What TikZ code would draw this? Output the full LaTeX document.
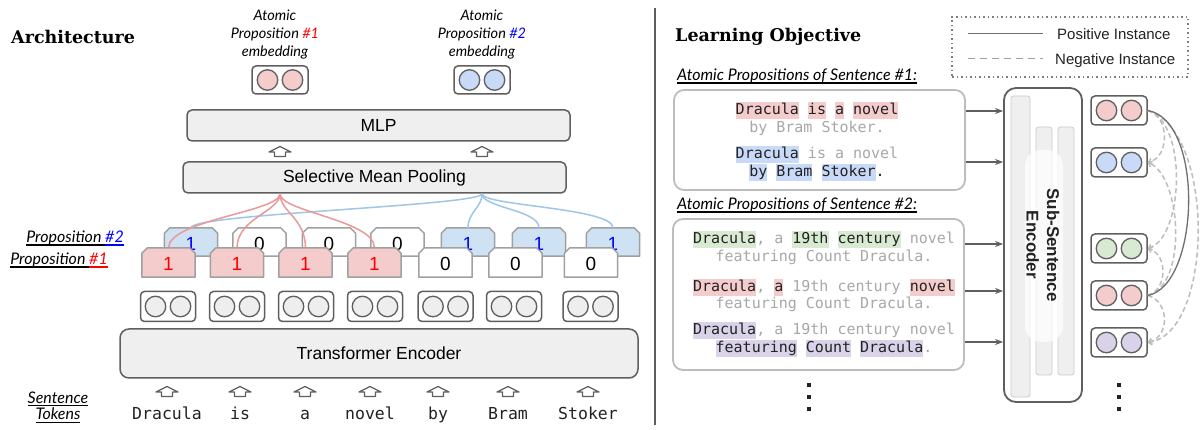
\documentclass[tikz,border=0pt]{standalone}
\usepackage{fontspec}
\setmainfont{Liberation Sans}
\newfontfamily\titlef{DejaVu Serif}
\newfontfamily\latof{Lato}
\newfontfamily\monof{DejaVu Sans Mono}
\usetikzlibrary{arrows.meta}
\definecolor{dgray}{HTML}{5F5F5F}
\definecolor{lgray}{HTML}{EFEFEF}
\definecolor{mgray}{HTML}{A0A0A0}
\definecolor{bgray}{HTML}{BDBDBD}
\definecolor{pinkc}{HTML}{F4CCCC}
\definecolor{bluec}{HTML}{C9DAF8}
\definecolor{blueb}{HTML}{CFE2F3}
\definecolor{greenc}{HTML}{D9EAD3}
\definecolor{purpc}{HTML}{D9D2E9}
\definecolor{tokc}{HTML}{EEEEEE}
\definecolor{redl}{HTML}{EA9999}
\definecolor{bluel}{HTML}{9FC5E8}
\definecolor{txtgray}{HTML}{A8A8A8}
\definecolor{hred}{HTML}{FF0000}
\definecolor{hblue}{HTML}{0000FF}
\definecolor{ink}{HTML}{222222}
\newcommand{\myul}[1]{\setbox0\hbox{#1}\rlap{\rule[-2.8pt]{\wd0}{1.3pt}}\box0\relax}
\newcommand{\hlw}[2]{\setbox0\hbox{#2}\rlap{\textcolor{#1}{\rule[-4pt]{\wd0}{17pt}}}\box0\relax}
\newcommand{\gr}[1]{\textcolor{txtgray}{#1}}
\newcommand{\emb}[5]{%
  \node[#5] (#1) at (#2,#3) {};
  \node[embcirc,fill=#4] (#1a) at ([xshift=-12.5pt]#1.center) {};
  \node[embcirc,fill=#4] (#1b) at ([xshift=12.5pt]#1.center) {};}
% chamfered proposition box: name, x, y, height, fill, text colour, digit
\newcommand{\chbox}[7]{%
  \node[inner sep=0,minimum width=53pt,minimum height=#4pt] (#1) at (#2,#3) {};
  \filldraw[fill=#5,draw=mgray,line width=1.5pt,line join=round]
    (#1.south west) -- ([yshift=-5.5pt]#1.north west) -- ([xshift=5.5pt]#1.north west)
    -- ([xshift=-5.5pt]#1.north east) -- ([yshift=-5.5pt]#1.north east) -- (#1.south east) -- cycle;
  \node[digit,text=#6] (#1t) at ([yshift=-1.5pt]#1.center) {#7};}
\begin{document}
\begin{tikzpicture}[x=1pt,y=-1pt,
  bigbox/.style={draw=dgray,fill=lgray,line width=1.5pt,rounded corners=5pt,inner sep=0,
     font=\fontsize{17.5}{20}\selectfont},
  embbase/.style={draw=dgray,line width=1.5pt,rounded corners=4pt,fill=white,inner sep=0},
  topemb/.style={embbase,minimum width=56pt,minimum height=28pt},
  tokemb/.style={embbase,minimum width=55pt,minimum height=30pt},
  rightemb/.style={embbase,minimum width=56pt,minimum height=29pt},
  embcirc/.style={circle,draw=dgray,line width=1.3pt,minimum size=20.5pt,inner sep=0},
  digit/.style={inner sep=0,font=\fontsize{19}{20}\selectfont},
  itl/.style={inner sep=0,font=\latof\itshape\fontsize{14.5}{18}\selectfont},
  itlb/.style={inner sep=0,font=\latof\itshape\fontsize{16}{18}\selectfont},
  tok/.style={inner sep=0,anchor=base,text=ink,font=\monof\fontsize{16.5}{18}\selectfont},
  mono/.style={inner sep=0,anchor=base,text=ink,font=\monof\fontsize{15}{18}\selectfont},
  title/.style={inner sep=0,anchor=base west,font=\titlef\bfseries\fontsize{17.5}{20}\selectfont},
  redcurve/.style={draw=redl,line width=1.5pt},
  bluecurve/.style={draw=bluel,line width=1.5pt},
  arr/.style={draw=dgray,line width=1.5pt,-{Stealth[length=8pt,width=6pt,inset=2.5pt]}},
  negc/.style={draw=bgray,line width=1.5pt,dash pattern=on 5pt off 3pt,
     -{Straight Barb[length=3pt,width=6pt]}},
  posc/.style={draw=dgray!90,line width=1.3pt},
  uparr/.pic={\draw[dgray,line width=1.3pt,fill=white,line join=round]
     (-11,0) -- (0,-5.5) -- (11,0) -- (5.5,0) -- (5.5,4.5) -- (-5.5,4.5) -- (-5.5,0) -- cycle;}
]
\fill[white] (0,0) rectangle (1200,430);
\useasboundingbox (0,0) rectangle (1200,430);

% ---------------- left: architecture ----------------
\node[title] (tA) at (11,44) {Architecture};

\node[itl,anchor=base] (lab1a) at (275,21) {Atomic};
\node[itl,anchor=base] (lab1b) at (275,39) {Proposition \textcolor{hred}{\#1}};
\node[itl,anchor=base] (lab1c) at (275,57) {embedding};
\node[itl,anchor=base] (lab2a) at (482,21) {Atomic};
\node[itl,anchor=base] (lab2b) at (482,39) {Proposition \textcolor{hblue}{\#2}};
\node[itl,anchor=base] (lab2c) at (482,57) {embedding};

\emb{tp1}{280}{80}{pinkc}{topemb}
\emb{tp2}{482}{80}{bluec}{topemb}

\node[bigbox,minimum width=383pt,minimum height=31pt] (mlp) at (378.5,125.5) {MLP};
\node[bigbox,minimum width=383pt,minimum height=31pt] (pool) at (374.5,177.5) {Selective Mean Pooling};
\pic (ua1) at (280,152) {uparr};
\pic (ua2) at (482,152) {uparr};

% back row (proposition #2)
\chbox{b1}{191}{242}{28}{blueb}{hblue}{1}
\chbox{b2}{259.5}{242}{28}{white}{black}{0}
\chbox{b3}{329}{242}{28}{white}{black}{0}
\chbox{b4}{397.5}{242}{28}{white}{black}{0}
\chbox{b5}{468}{242}{28}{blueb}{hblue}{1}
\chbox{b6}{539}{242}{28}{blueb}{hblue}{1}
\chbox{b7}{613}{242}{28}{blueb}{hblue}{1}

\coordinate (pr) at (pool.south -| 280,0);
\coordinate (pb) at (pool.south -| 482,0);
\draw[bluecurve] (pb) .. controls +(0,12) and +(0,-14) .. (b1.north);
\draw[bluecurve] (pb) .. controls +(0,14) and +(0,-16) .. (b5.north);
\draw[bluecurve] (pb) .. controls +(0,14) and +(0,-18) .. (b6.north);
\draw[bluecurve] (pb) .. controls +(0,12) and +(0,-20) .. (b7.north);

\draw[redcurve] (pr) .. controls +(0,18) and +(0,-28) .. (168.5,248);
\draw[redcurve] (pr) .. controls +(0,18) and +(0,-30) .. (237,248);
\draw[redcurve] (pr) .. controls +(0,18) and +(0,-30) .. (305.5,248);
\draw[redcurve] (pr) .. controls +(0,18) and +(0,-28) .. (374.5,248);

% front row (proposition #1)
\chbox{f1}{168.5}{262.5}{29}{pinkc}{hred}{1}
\chbox{f2}{237}{262.5}{29}{pinkc}{hred}{1}
\chbox{f3}{305.5}{262.5}{29}{pinkc}{hred}{1}
\chbox{f4}{374.5}{262.5}{29}{pinkc}{hred}{1}
\chbox{f5}{445.5}{262.5}{29}{white}{black}{0}
\chbox{f6}{515.5}{262.5}{29}{white}{black}{0}
\chbox{f7}{591}{262.5}{29}{white}{black}{0}

\node[itlb,anchor=base east] (lp2) at (124,243) {\myul{Proposition\ }\textcolor{hblue}{\myul{\#2}}};
\node[itlb,anchor=base east] (lp1) at (108,265) {\myul{Proposition\ }\textcolor{hred}{\myul{\#1}}};

\foreach \n/\x in {1/168,2/237,3/306,4/375,5/445.5,6/514,7/590.5}
  {\emb{te\n}{\x}{306.5}{tokc}{tokemb}}

\node[bigbox,minimum width=518pt,minimum height=49pt,rounded corners=9pt] (tenc) at (379,353.5) {Transformer Encoder};

\foreach \n/\x/\w in {1/167/Dracula,2/240/is,3/305/a,4/370/novel,5/438/by,6/508/Bram,7/588/Stoker}
  {\pic (tu\n) at (\x,392) {uparr};
   \node[tok] (tk\n) at (\x,420) {\w};}

\node[itlb,anchor=base] (st1) at (58,403) {\myul{Sentence}};
\node[itlb,anchor=base] (st2) at (58,420) {\myul{Tokens}};

% separator
\draw[dgray,line width=1.8pt] (655,8) -- (655,425);

% ---------------- right: learning objective ----------------
\node[title] (tL) at (675,42) {Learning Objective};

\node[draw=dgray!80,line width=1.5pt,dash pattern=on 1.5pt off 3pt,minimum width=236pt,minimum height=60pt,inner sep=0] (leg) at (1070,47) {};
\coordinate (lg1a) at (968,33.5);
\coordinate (lg1b) at (1043,33.5);
\coordinate (lg2a) at (968,58.5);
\coordinate (lg2b) at (1043,58.5);
\draw[posc] (lg1a) -- (lg1b);
\draw[draw=mgray,line width=1.3pt,dash pattern=on 7pt off 5pt] (lg2a) -- (lg2b);
\node[inner sep=0,anchor=base west,font=\fontsize{15}{18}\selectfont,text=ink] (legp) at (1057,39.5) {Positive Instance};
\node[inner sep=0,anchor=base west,font=\fontsize{15}{18}\selectfont,text=ink] (legn) at (1055,64.5) {Negative Instance};

\node[itlb,anchor=base west] (s1l) at (677,81) {\myul{Atomic Propositions of Sentence \#1:}};
\node[itlb,anchor=base west] (s2l) at (677,210) {\myul{Atomic Propositions of Sentence \#2:}};

\node[draw=bgray,line width=1.8pt,rounded corners=10pt,minimum width=291pt,minimum height=100pt,inner sep=0] (sb1) at (819.5,140) {};
\node[draw=bgray,line width=1.8pt,rounded corners=10pt,minimum width=291pt,minimum height=151pt,inner sep=0] (sb2) at (818.5,294.5) {};

\node[mono] (a1) at (817,115) {\hlw{pinkc}{Dracula} \hlw{pinkc}{is} \hlw{pinkc}{a} \hlw{pinkc}{novel}};
\node[mono] (a2) at (817,133) {\gr{by Bram Stoker.}};
\node[mono] (a3) at (817,159) {\hlw{bluec}{Dracula} \gr{is a novel}};
\node[mono] (a4) at (817,177) {\hlw{bluec}{by} \hlw{bluec}{Bram} \hlw{bluec}{Stoker}.};

\node[mono] (c1) at (824,244) {\hlw{greenc}{Dracula}\gr{, a} \hlw{greenc}{19th} \hlw{greenc}{century} \gr{novel}};
\node[mono] (c2) at (824,262) {\gr{featuring Count Dracula.}};
\node[mono] (c3) at (824,292) {\hlw{pinkc}{Dracula}\gr{,} \hlw{pinkc}{a} \gr{19th century} \hlw{pinkc}{novel}};
\node[mono] (c4) at (824,309) {\gr{featuring Count Dracula.}};
\node[mono] (c5) at (824,335) {\hlw{purpc}{Dracula}\gr{, a 19th century novel}};
\node[mono] (c6) at (824,353) {\hlw{purpc}{featuring} \hlw{purpc}{Count} \hlw{purpc}{Dracula}\gr{.}};

% sub-sentence encoder
\node[draw=dgray,line width=1.8pt,rounded corners=12pt,fill=white,minimum width=78pt,minimum height=314pt,inner sep=0] (enc) at (1043,245) {};
\node[fill=lgray,draw=lgray!85!black,line width=0.8pt,rounded corners=2.5pt,minimum width=19pt,minimum height=301pt,inner sep=0] (bar1) at (1020.5,246.5) {};
\node[fill=lgray,draw=lgray!85!black,line width=0.8pt,rounded corners=2.5pt,minimum width=16pt,minimum height=248pt,inner sep=0] (bar2) at (1044,251) {};
\node[fill=lgray,draw=lgray!85!black,line width=0.8pt,rounded corners=2.5pt,minimum width=16pt,minimum height=248pt,inner sep=0] (bar3) at (1066,251) {};
\node[fill=white,fill opacity=0.7,rounded corners=16pt,minimum width=38pt,minimum height=192pt,inner sep=0] (glow) at (1044,246) {};
\node[rotate=-90,align=center,inner sep=0,text=ink,font=\bfseries\fontsize{17}{20.5}\selectfont] (enct) at (1043,245) {Sub-Sentence\\Encoder};

\foreach \y in {111,162} {\draw[arr] (sb1.east |- 0,\y) -- (enc.west |- 0,\y);}
\foreach \y in {244,291,342} {\draw[arr] (sb2.east |- 0,\y) -- (enc.west |- 0,\y);}

% right embeddings
\emb{r1}{1119}{110.5}{pinkc}{rightemb}
\emb{r2}{1119}{162.5}{bluec}{rightemb}
\emb{r3}{1119}{248.5}{greenc}{rightemb}
\emb{r4}{1119}{295.5}{pinkc}{rightemb}
\emb{r5}{1119}{342.5}{purpc}{rightemb}

\draw[negc] (r1.east) .. controls +(22,6) and +(22,-6) .. (r2.east);
\draw[negc] (r1.east) .. controls +(40,12) and +(36,-12) .. (r3.east);
\draw[negc] (r1.east) .. controls +(68,20) and +(66,-10) .. (r5.east);
\draw[negc] (r4.east) .. controls +(40,-10) and +(34,14) .. (r2.east);
\draw[negc] (r4.east) .. controls +(20,-6) and +(20,6) .. (r3.east);
\draw[negc] (r4.east) .. controls +(22,6) and +(22,-6) .. (r5.east);
\draw[posc] (r1.east) .. controls +(57,10) and +(52,-10) .. (r4.east);

% vertical dots
\foreach \x in {806.5,1117}
  {\foreach \y in {383,395,407} {\fill[ink] (\x,\y) rectangle +(4,4);}}
\end{tikzpicture}
\end{document}
